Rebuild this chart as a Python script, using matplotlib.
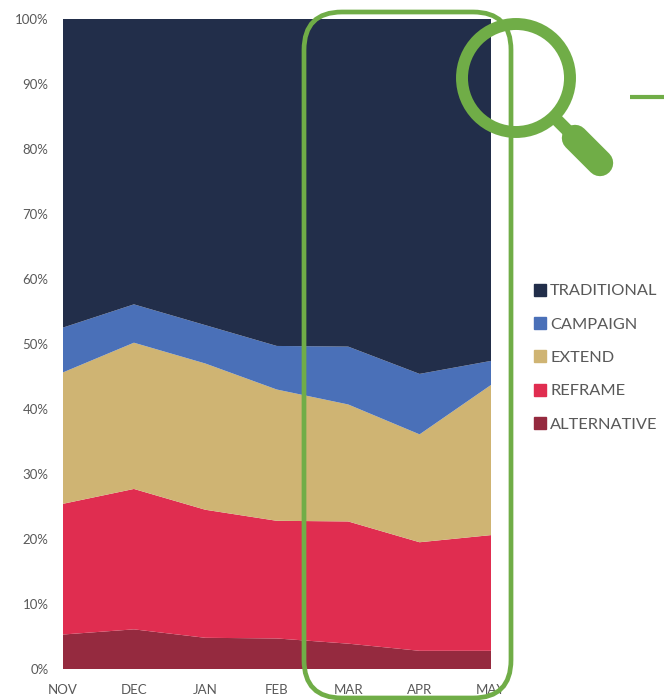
import matplotlib
matplotlib.use('Agg')
import matplotlib.pyplot as plt
from matplotlib.patches import Circle, FancyBboxPatch
from matplotlib.lines import Line2D

plt.rcParams['font.family'] = ['Lato', 'DejaVu Sans']

months = ['NOV', 'DEC', 'JAN', 'FEB', 'MAR', 'APR', 'MAY']
alternative = [5.3, 6.1, 4.8, 4.7, 3.9, 2.8, 2.8]
reframe = [20.1, 21.6, 19.7, 18.1, 18.8, 16.7, 17.8]
extend = [20.2, 22.5, 22.5, 20.2, 18.0, 16.6, 23.1]
campaign = [6.9, 5.9, 5.9, 6.7, 8.9, 9.3, 3.7]
traditional = [47.5, 43.9, 47.1, 50.3, 50.4, 54.6, 52.6]

names = ['ALTERNATIVE', 'REFRAME', 'EXTEND', 'CAMPAIGN', 'TRADITIONAL']
colors = ['#952A3F', '#E02D50', '#CFB473', '#4A70B8', '#222E4A']
green = '#70AD47'
grey = '#595959'

W, H = 664, 700
fig = plt.figure(figsize=(W / 100, H / 100), dpi=100)

# zone du graphique
ax = fig.add_axes([62.5 / W, (H - 669) / H, 428.5 / W, 650 / H])
x = list(range(len(months)))
polys = ax.stackplot(x, alternative, reframe, extend, campaign, traditional,
                     colors=colors, linewidth=0)
ax.set_xlim(0, 6)
ax.set_ylim(0, 100)
ax.set_xticks(x, months)
ax.set_yticks(range(0, 101, 10), [f'{v}%' for v in range(0, 101, 10)])
ax.tick_params(length=0, labelsize=9.5, labelcolor=grey)
ax.tick_params(axis='x', pad=10.5)
ax.tick_params(axis='y', pad=10)
for s in ax.spines.values():
    s.set_visible(False)

# légende, dans l'ordre inverse des séries
handles = [Line2D([], [], linestyle='', marker='s', markersize=8.5,
                  color=c) for c in colors[::-1]]
leg = fig.legend(handles, names[::-1], loc='upper left',
                 bbox_to_anchor=(528 / W, 1 - 284 / H), frameon=False,
                 fontsize=11.8, labelcolor=grey, handlelength=1.5,
                 handletextpad=-0.15, labelspacing=1.15, borderpad=0,
                 borderaxespad=0)

# décor vert, en coordonnées pixels
deco = fig.add_axes([0, 0, 1, 1], facecolor='none')
deco.set_xlim(0, W)
deco.set_ylim(H, 0)
deco.axis('off')
deco.add_patch(FancyBboxPatch((304, 12), 207, 686,
                              boxstyle='round,pad=0,rounding_size=38',
                              fill=False, edgecolor=green, linewidth=3.4))
deco.add_patch(Circle((516, 78), 54, fill=False, edgecolor=green, linewidth=8.6))
deco.plot([555, 576], [118, 139], color=green, linewidth=9, solid_capstyle='butt')
deco.plot([575, 600], [138, 163], color=green, linewidth=19, solid_capstyle='round')
deco.plot([630, 664], [97, 97], color=green, linewidth=3, solid_capstyle='butt')

fig.savefig('out.png', dpi=100)
